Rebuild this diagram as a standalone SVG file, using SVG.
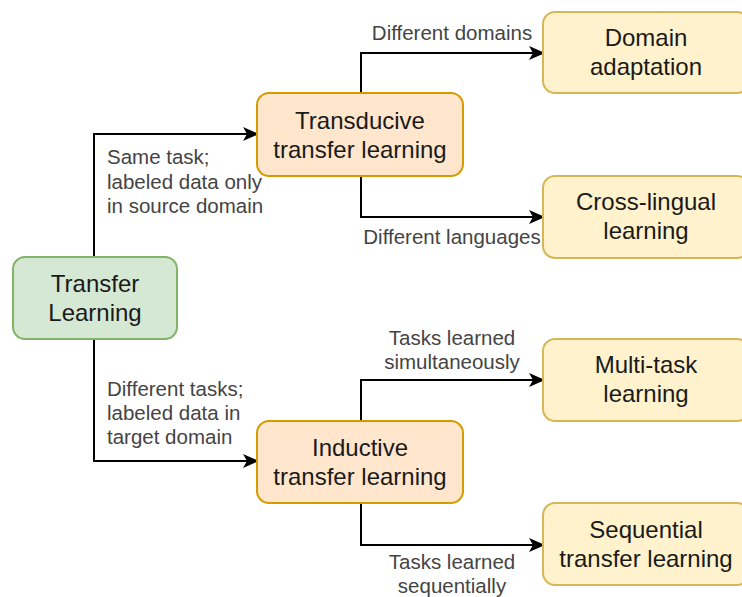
<svg xmlns="http://www.w3.org/2000/svg" width="742" height="597" viewBox="0 0 742 597">
<defs>
<marker id="arr" markerWidth="16" markerHeight="14" refX="14" refY="7" orient="auto" markerUnits="userSpaceOnUse">
<path d="M0,0 L16,7 L0,14 L4,7 Z" fill="#000"/>
</marker>
<style>
.node text{font-family:"Liberation Sans",Arial,sans-serif;font-size:24px;fill:#1a1a1a;text-anchor:middle}
.green{fill:#d5e8d4;stroke:#82b366;stroke-width:2}
.orange{fill:#ffe6cc;stroke:#d79b00;stroke-width:2}
.yellow{fill:#fff2cc;stroke:#d6b656;stroke-width:2}
.edge{fill:none;stroke:#000;stroke-width:2;marker-end:url(#arr)}
.lbl{font-family:"Liberation Sans",Arial,sans-serif;font-size:20.5px;fill:#444}
.mid{text-anchor:middle}
</style>
</defs>
<rect width="742" height="597" fill="#fff"/>
<g id="connectors">
<path class="edge" d="M94,257 V134 H257"/>
<path class="edge" d="M94,339 V461 H257"/>
<path class="edge" d="M361,93 V53 H543"/>
<path class="edge" d="M361,176 V217 H543"/>
<path class="edge" d="M361,421 V380 H543"/>
<path class="edge" d="M361,503 V545 H543"/>
</g>
<g id="labels">
<text class="lbl" x="107" y="164">Same task;</text>
<text class="lbl" x="107" y="189">labeled data only</text>
<text class="lbl" x="107" y="213">in source domain</text>
<text class="lbl" x="107" y="396">Different tasks;</text>
<text class="lbl" x="107" y="420">labeled data in</text>
<text class="lbl" x="107" y="444">target domain</text>
<text class="lbl mid" x="452" y="40">Different domains</text>
<text class="lbl mid" x="452" y="244">Different languages</text>
<text class="lbl mid" x="452" y="345">Tasks learned</text>
<text class="lbl mid" x="452" y="369">simultaneously</text>
<text class="lbl mid" x="452" y="569">Tasks learned</text>
<text class="lbl mid" x="452" y="593">sequentially</text>
</g>
<g id="transfer" class="node">
<rect class="green" x="13" y="257" width="164" height="82" rx="12"/>
<text x="95" y="292">Transfer</text>
<text x="95" y="321">Learning</text>
</g>
<g id="transducive" class="node">
<rect class="orange" x="257" y="93" width="206" height="83" rx="12"/>
<text x="360" y="129">Transducive</text>
<text x="360" y="158">transfer learning</text>
</g>
<g id="inductive" class="node">
<rect class="orange" x="257" y="421" width="206" height="82" rx="12"/>
<text x="360" y="456">Inductive</text>
<text x="360" y="485">transfer learning</text>
</g>
<g id="domain" class="node">
<rect class="yellow" x="543" y="12" width="206" height="81" rx="12"/>
<text x="646" y="46">Domain</text>
<text x="646" y="75">adaptation</text>
</g>
<g id="crosslingual" class="node">
<rect class="yellow" x="543" y="176" width="206" height="82" rx="12"/>
<text x="646" y="210">Cross-lingual</text>
<text x="646" y="239">learning</text>
</g>
<g id="multitask" class="node">
<rect class="yellow" x="543" y="339" width="206" height="82" rx="12"/>
<text x="646" y="373">Multi-task</text>
<text x="646" y="402">learning</text>
</g>
<g id="sequential" class="node">
<rect class="yellow" x="543" y="503" width="206" height="82" rx="12"/>
<text x="646" y="538">Sequential</text>
<text x="646" y="567">transfer learning</text>
</g>
</svg>
